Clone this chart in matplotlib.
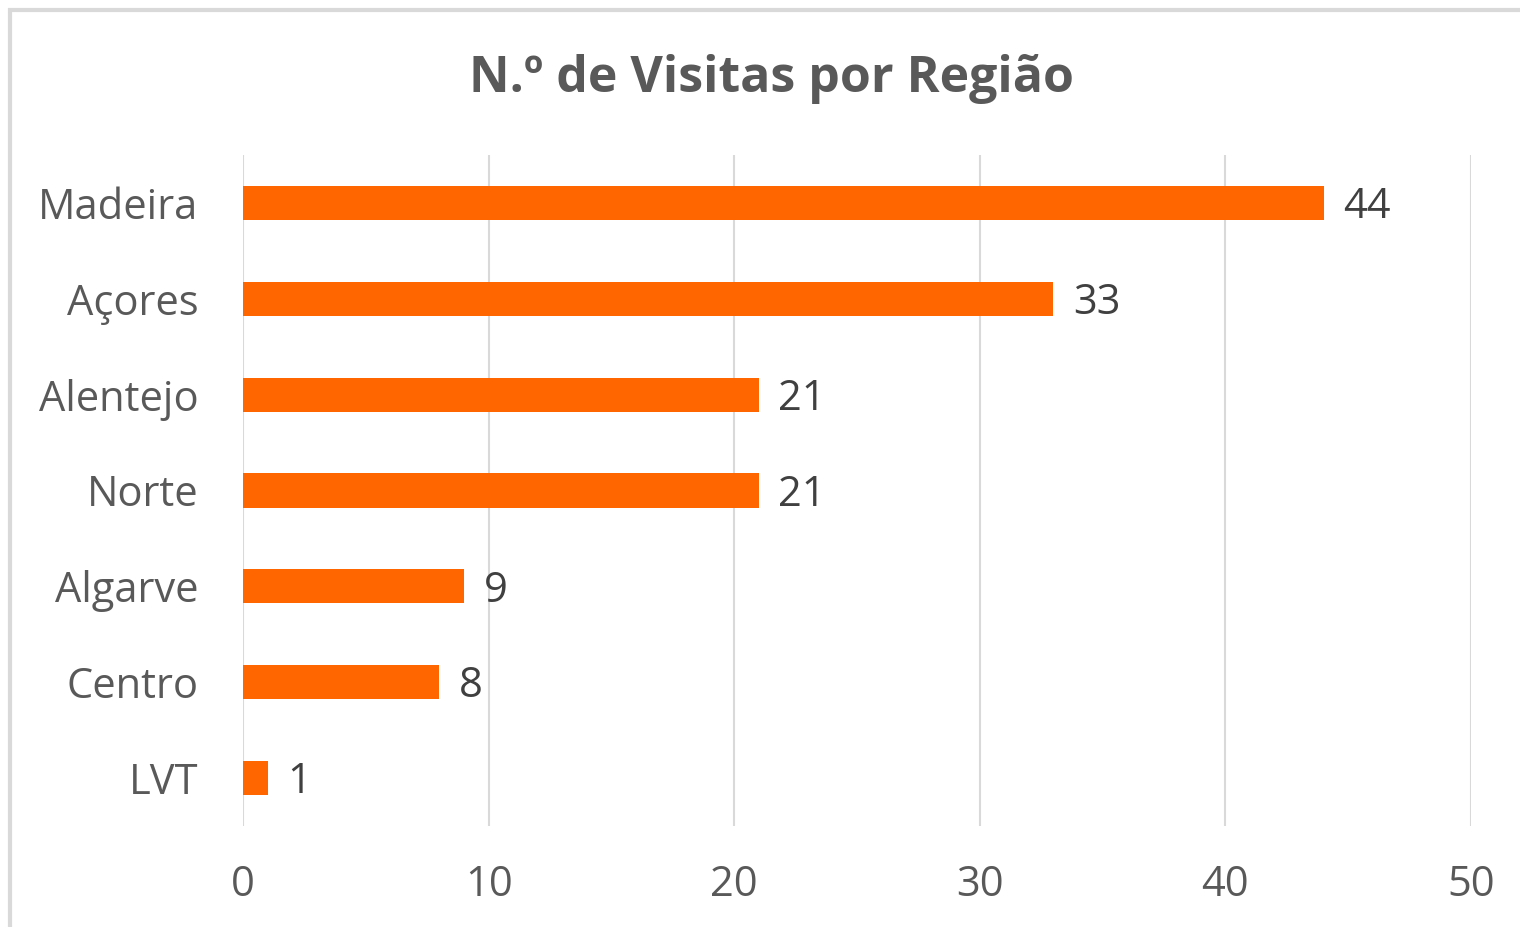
import matplotlib.pyplot as plt
from matplotlib.patches import Rectangle

# dados
regioes = ['Madeira', 'Açores', 'Alentejo', 'Norte', 'Algarve', 'Centro', 'LVT']
visitas = [44, 33, 21, 21, 9, 8, 1]
ticks_x = [0, 10, 20, 30, 40, 50]

plt.rcParams['font.family'] = ['Open Sans', 'DejaVu Sans']
cinza = '#595959'

fig = plt.figure(figsize=(15.2, 9.27), dpi=100)
ax = fig.add_axes([243 / 1520, 1 - 826 / 927, (1471 - 243) / 1520, (826 - 155) / 927])

# moldura da área do gráfico (cortada à direita e em baixo)
fig.patches.append(Rectangle((9.5 / 1520, -0.05), 1.2, 1 - 9.5 / 927 + 0.05,
                             transform=fig.transFigure, fill=False,
                             edgecolor='#D9D9D9', linewidth=3))

pos = list(range(len(regioes)))
ax.barh(pos, visitas, height=0.355, color='#FF6600', zorder=3)
for p, v in zip(pos, visitas):
    ax.annotate(str(v), (v, p), xytext=(14, -3), textcoords='offset points',
                ha='left', va='center', fontsize=30, color='#404040')

ax.set_xlim(0, 50)
ax.set_ylim(len(regioes) - 0.5, -0.5)
ax.set_xticks(ticks_x)
ax.set_yticks(pos)
ax.set_yticklabels(regioes)
ax.tick_params(axis='y', length=0, pad=32, labelsize=30, labelcolor=cinza)
ax.tick_params(axis='x', length=0, pad=27, labelsize=30, labelcolor=cinza)
ax.xaxis.grid(True, color='#D9D9D9', linewidth=1.5, zorder=0)
for s in ax.spines.values():
    s.set_visible(False)

fig.text(771 / 1520, 1 - 79 / 927, 'N.º de Visitas por Região', ha='center', va='center',
         fontsize=36, fontweight='bold', color=cinza)

fig.savefig('out.png', dpi=100)
